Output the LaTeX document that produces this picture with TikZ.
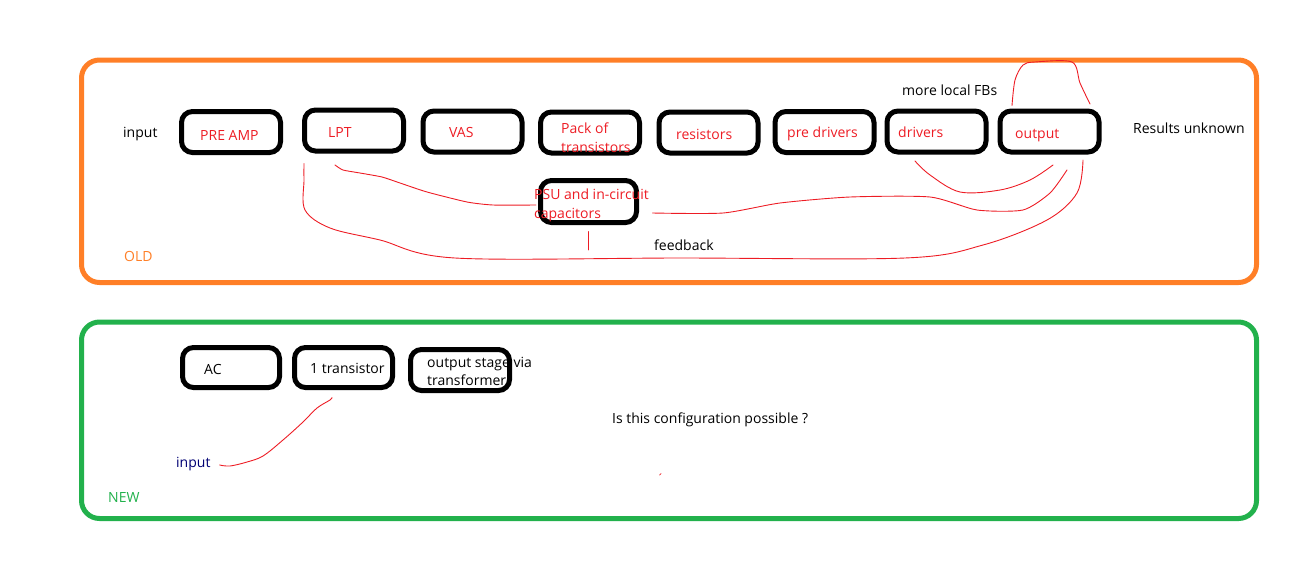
\documentclass[tikz,border=0pt]{standalone}
\usepackage{fontspec}
\setmainfont{Open Sans}
\usetikzlibrary{calc}
\tikzset{>=latex}
\definecolor{paintorange}{RGB}{255,127,39}
\definecolor{paintgreen}{RGB}{34,177,76}
\definecolor{paintred}{RGB}{237,28,36}
\colorlet{inknavy}{blue!45!black}
\tikzset{
  blk/.style={draw, line width=5pt, rounded corners=11pt,
    minimum width=99pt, minimum height=41pt, inner sep=0pt},
  txt/.style={anchor=base west, inner sep=0pt,
    font=\fontsize{14}{16}\selectfont},
  redtxt/.style={txt, text=paintred},
  wire/.style={paintred, line width=0.9pt, line cap=round, line join=round},
}

\begin{document}
\begin{tikzpicture}[x=1pt,y=-1pt]
  \useasboundingbox (0,0) rectangle (1308,563);

  % FRAMES
  \draw[paintorange, line width=5pt, rounded corners=18pt] (81.5,60) rectangle (1256.5,282.5);
  \draw[paintgreen, line width=5pt, rounded corners=18pt] (81.5,322) rectangle (1256.5,518.5);

  % OLD CHAIN
  \node[blk] (preamp) at (231,132) {};
  \node[blk] (lpt) at (354,130.5) {};
  \node[blk] (vas) at (472.5,131.5) {};
  \node[blk] (pack) at (590,132.5) {};
  \node[blk] (resist) at (708.5,132.5) {};
  \node[blk] (predrv) at (824.5,132) {};
  \node[blk] (drv) at (936.5,131.5) {};
  \node[blk] (outp) at (1049.5,131.5) {};
  \node[blk, minimum width=96pt, minimum height=42pt] (psu) at (588.5,201.5) {};
  \coordinate (psuend) at (588.5,250);

  % FEEDBACK WIRES
  \draw[wire] plot[smooth, tension=0.55] coordinates {([shift={(2,10)}]lpt.south west)
    (304,180) (305,210) (330,228) (380,240) (455,258) (680,258) (905,258)
    (983,245) (1047,220) (1077,193) ([shift={(33.5,5.5)}]outp.south)};
  \draw[wire] plot[smooth, tension=0.35] coordinates {([shift={(-19,11.5)}]lpt.south)
    (343,170) (360,173) (382,177) (400,183) (427,192) (467,202) (493,205)
    ([shift={(-2,3.5)}]psu.west)};
  \draw[wire] plot[smooth, tension=0.4] coordinates {([shift={(13.5,11.5)}]psu.east)
    (723,213) (780,203) (850,197) (930,197) (977,210) (1023,210) (1050,193)
    ([shift={(17.5,15.5)}]outp.south)};
  \draw[wire] plot[smooth, tension=0.55] coordinates {([shift={(-21.5,6.5)}]drv.south)
    (930,175) (960,192) (1000,190) (1030,180) ([shift={(3.5,10.5)}]outp.south)};
  \draw[wire] plot[smooth, tension=0.5] coordinates {([shift={(-37.5,-3)}]outp.north)
    (1015,80) (1023,65) (1035,62) (1072,62) (1080,83) ([shift={(40.5,-4.5)}]outp.north)};
  \draw[wire] ([yshift=-6.5pt]psu.south) -- (psuend);

  % OLD LABELS
  \node[txt] (inold) at (123,137) {input};
  \node[redtxt] (preamp-t) at (200,140) {PRE AMP};
  \node[redtxt] (lpt-t) at (328,137) {LPT};
  \node[redtxt] (vas-t) at (449,137) {VAS};
  \node[redtxt] (pack-t1) at (561,133) {Pack of};
  \node[redtxt] (pack-t2) at (561,152) {transistors};
  \node[redtxt] (resist-t) at (676,139) {resistors};
  \node[redtxt] (predrv-t) at (787,137) {pre drivers};
  \node[redtxt] (drv-t) at (898,137) {drivers};
  \node[redtxt] (outp-t) at (1015,138) {output};
  \node[redtxt] (psu-t1) at (534,199) {PSU and in-circuit};
  \node[redtxt] (psu-t2) at (534,218) {capacitors};
  \node[txt] (localfb) at (902,95) {more local FBs};
  \node[txt] (results) at (1133,133) {Results unknown};
  \node[txt] (fb) at (654,250) {feedback};
  \node[txt, text=paintorange] (old) at (124,261) {OLD};

  % NEW CHAIN
  \node[blk, minimum width=97pt, minimum height=40pt] (ac) at (231,367.5) {};
  \node[blk, minimum width=98pt, minimum height=40pt] (onetr) at (343.5,367.5) {};
  \node[blk] (outstage) at (460,370) {};
  \node[txt] (ac-t) at (204,374) {AC};
  \node[txt] (onetr-t) at (310,373) {1 transistor};
  \node[txt] (outstage-t1) at (427,367) {output stage via};
  \node[txt] (outstage-t2) at (427,385) {transformer};
  \node[txt, text=inknavy] (innew) at (176,467) {input};
  \node[txt] (question) at (612,423) {Is this configuration possible ?};
  \node[txt, text=paintgreen] (new) at (108,502) {NEW};

  \draw[wire] plot[smooth, tension=0.55] coordinates {([shift={(-11.5,7.5)}]onetr.south)
    (330,400) (317,408) (303,422) (283,440) (263,456) (247,462) (230,466)
    ([shift={(9,-2)}]innew.base east)};
  \draw[wire, line width=0.7pt] (659.5,475) -- (661,473.5);

\end{tikzpicture}
\end{document}
